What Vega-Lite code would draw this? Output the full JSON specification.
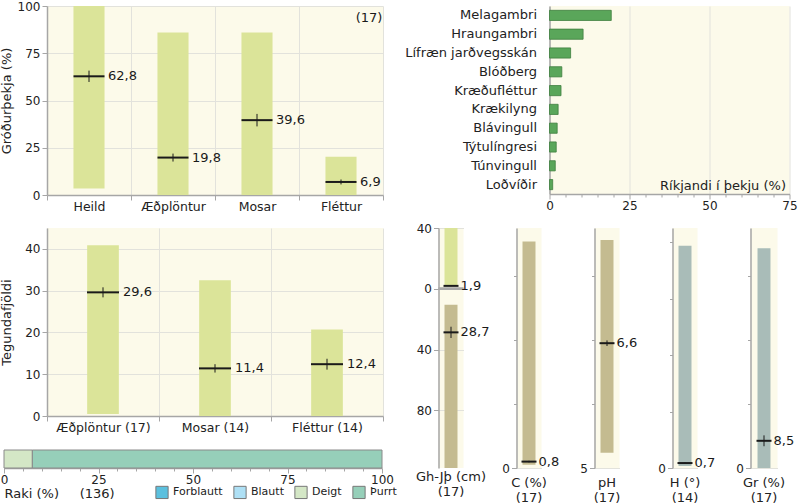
{
  "$schema": "https://vega.github.io/schema/vega-lite/v6.json",
  "padding": 0,
  "background": "white",
  "config": {
    "font": "DejaVu Sans",
    "locale": {"number": {"decimal": ",", "thousands": ".", "grouping": [3], "currency": ["", ""]}},
    "view": {"fill": "#fcfaea", "stroke": null},
    "axis": {"labelFontSize": 12, "labelColor": "#222222", "titleFontSize": 13, "titleFontWeight": "normal", "titleColor": "#222222", "domainColor": "#a6a6a6", "domainWidth": 1.5, "tickColor": "#a6a6a6", "gridColor": "#e2e2dc", "labelFlush": false, "labelOverlap": false},
    "title": {"fontSize": 13, "fontWeight": "normal", "color": "#222222"},
    "legend": {"labelFontSize": 11, "labelColor": "#222222", "padding": 0},
    "text": {"color": "#1a1a1a"}
  },
  "resolve": {"scale": {"color": "independent"}, "legend": {"color": "independent"}},
  "spacing": 9,
  "vconcat": [
    {
      "spacing": 20.5,
      "hconcat": [
        {
          "width": 336, "height": 189,
          "data": {"values": [
            {"grp": "Heild", "lo": 3.5, "hi": 100, "mean": 62.8, "seLo": 59.8, "seHi": 65.8},
            {"grp": "Æðplöntur", "lo": 0, "hi": 86, "mean": 19.8, "seLo": 17.7, "seHi": 21.9},
            {"grp": "Mosar", "lo": 0, "hi": 86, "mean": 39.6, "seLo": 36.3, "seHi": 42.9},
            {"grp": "Fléttur", "lo": 0, "hi": 20.2, "mean": 6.9, "seLo": 5.6, "seHi": 8.2}
          ]},
          "layer": [
            {"mark": {"type": "bar", "color": "#dbe499", "width": {"band": 0.37}},
             "encoding": {
               "x": {"field": "grp", "type": "nominal", "sort": null, "scale": {"paddingInner": 0, "paddingOuter": 0},
                     "axis": {"title": null, "labelAngle": 0, "tickBand": "extent", "grid": true, "tickSize": 5, "labelPadding": 0, "labelFontSize": 12.5}},
               "y": {"field": "lo", "type": "quantitative", "scale": {"domain": [0, 100], "nice": false},
                     "axis": {"title": "Gróðurþekja (%)", "values": [0, 25, 50, 75, 100], "tickSize": 5, "labelPadding": 2, "minExtent": 28, "maxExtent": 28, "titlePadding": 6, "grid": true}},
               "y2": {"field": "hi"}}},
            {"mark": {"type": "rule", "color": "#1a1a1a", "strokeWidth": 1},
             "encoding": {"x": {"field": "grp", "type": "nominal", "sort": null}, "y": {"field": "seLo", "type": "quantitative"}, "y2": {"field": "seHi"}}},
            {"mark": {"type": "tick", "color": "#1a1a1a", "thickness": 2, "size": 31, "opacity": 1},
             "encoding": {"x": {"field": "grp", "type": "nominal", "sort": null}, "y": {"field": "mean", "type": "quantitative"}}},
            {"mark": {"type": "text", "align": "left", "baseline": "middle", "dx": 19, "fontSize": 13},
             "encoding": {"x": {"field": "grp", "type": "nominal", "sort": null}, "y": {"field": "mean", "type": "quantitative"}, "text": {"field": "mean", "type": "quantitative", "format": ".1f"}}},
            {"data": {"values": [{"n": "(17)", "grp": "Fléttur", "pos": 100}]},
             "mark": {"type": "text", "align": "center", "baseline": "middle", "dx": 28, "dy": 12, "fontSize": 13},
             "encoding": {"x": {"field": "grp", "type": "nominal", "sort": null}, "y": {"field": "pos", "type": "quantitative"}, "text": {"field": "n"}}}
          ]
        },
        {
          "width": 240, "height": 188,
          "data": {"values": [
            {"sp": "Melagambri", "v": 19.3},
            {"sp": "Hraungambri", "v": 10.5},
            {"sp": "Lífræn jarðvegsskán", "v": 6.6},
            {"sp": "Blóðberg", "v": 3.85},
            {"sp": "Kræðufléttur", "v": 3.6},
            {"sp": "Krækilyng", "v": 2.7},
            {"sp": "Blávingull", "v": 2.4},
            {"sp": "Týtulíngresi", "v": 2.1},
            {"sp": "Túnvingull", "v": 1.8},
            {"sp": "Loðvíðir", "v": 1.0}
          ]},
          "mark": {"type": "bar", "color": "#5aa65a", "stroke": "#3f7f3f", "strokeWidth": 0.8, "height": {"band": 0.54}},
          "encoding": {
            "y": {"field": "sp", "type": "nominal", "sort": null, "scale": {"paddingInner": 0, "paddingOuter": 0},
                  "axis": {"title": null, "ticks": false, "labelPadding": 13, "grid": false, "labelFontSize": 13}},
            "x": {"field": "v", "type": "quantitative", "scale": {"domain": [0, 75], "nice": false},
                  "axis": {"title": "Ríkjandi í þekju (%)", "titleX": 236, "titleY": -5, "titleAlign": "right", "titleBaseline": "alphabetic", "titleAnchor": "end",
                           "values": [0,5,10,15,20,25,30,35,40,45,50,55,60,65,70,75],
                           "labelExpr": "datum.value % 25 === 0 ? format(datum.value, 'd') : ''",
                           "tickSize": {"condition": {"test": "datum.value % 25 === 0", "value": 5}, "value": 3},
                           "grid": true,
                           "gridOpacity": {"condition": {"test": "datum.value % 25 === 0", "value": 1}, "value": 0},
                           "labelPadding": 1}}
          }
        }
      ]
    },
    {
      "spacing": -9.5,
      "resolve": {"scale": {"color": "independent"}, "legend": {"color": "independent"}},
      "hconcat": [
        {
          "spacing": 15,
          "resolve": {"scale": {"color": "independent"}, "legend": {"color": "independent"}},
          "vconcat": [
            {
              "width": 336, "height": 188,
              "data": {"values": [
                {"grp": "Æðplöntur (17)", "lo": 0.5, "hi": 40.9, "mean": 29.6, "seLo": 28.4, "seHi": 30.8},
                {"grp": "Mosar (14)", "lo": 0, "hi": 32.5, "mean": 11.4, "seLo": 10.4, "seHi": 12.4},
                {"grp": "Fléttur (14)", "lo": 0, "hi": 20.7, "mean": 12.4, "seLo": 11.1, "seHi": 13.7}
              ]},
              "layer": [
                {"mark": {"type": "bar", "color": "#dbe499", "width": {"band": 0.283}},
                 "encoding": {
                   "x": {"field": "grp", "type": "nominal", "sort": null, "scale": {"paddingInner": 0, "paddingOuter": 0},
                         "axis": {"title": null, "labelAngle": 0, "tickBand": "extent", "grid": true, "tickSize": 5, "labelPadding": 0, "labelFontSize": 12.5}},
                   "y": {"field": "lo", "type": "quantitative", "scale": {"domain": [0, 45], "nice": false},
                         "axis": {"title": "Tegundafjöldi", "values": [0, 10, 20, 30, 40], "tickSize": 5, "labelPadding": 2, "minExtent": 28, "maxExtent": 28, "titlePadding": 6, "grid": true}},
                   "y2": {"field": "hi"}}},
                {"mark": {"type": "rule", "color": "#1a1a1a", "strokeWidth": 1},
                 "encoding": {"x": {"field": "grp", "type": "nominal", "sort": null}, "y": {"field": "seLo", "type": "quantitative"}, "y2": {"field": "seHi"}}},
                {"mark": {"type": "tick", "color": "#1a1a1a", "thickness": 2, "size": 32, "opacity": 1},
                 "encoding": {"x": {"field": "grp", "type": "nominal", "sort": null}, "y": {"field": "mean", "type": "quantitative"}}},
                {"mark": {"type": "text", "align": "left", "baseline": "middle", "dx": 20, "fontSize": 13},
                 "encoding": {"x": {"field": "grp", "type": "nominal", "sort": null}, "y": {"field": "mean", "type": "quantitative"}, "text": {"field": "mean", "type": "quantitative", "format": ".1f"}}}
              ]
            },
            {
              "width": 336, "height": 18,
              "view": {"fill": "white"},
              "data": {"values": [
                {"row": "Raki", "cat": "Deigt", "v": 7.5, "o": 1},
                {"row": "Raki", "cat": "Þurrt", "v": 92.5, "o": 2}
              ]},
              "mark": {"type": "bar", "stroke": "#8a8a8a", "strokeWidth": 1},
              "encoding": {
                "y": {"field": "row", "type": "nominal", "axis": null, "scale": {"paddingInner": 0, "paddingOuter": 0}},
                "x": {"field": "v", "type": "quantitative", "stack": "zero", "scale": {"domain": [0, 100], "nice": false, "range": [-43, 335]},
                      "axis": {"title": "Raki (%)\u00a0\u00a0\u00a0\u00a0\u00a0(136)", "titleAnchor": "start", "titleAlign": "left", "titlePadding": 2,
                               "values": [0,5,10,15,20,25,30,35,40,45,50,55,60,65,70,75,80,85,90,95,100],
                               "labelExpr": "datum.value % 25 === 0 ? format(datum.value, 'd') : ''",
                               "tickSize": {"condition": {"test": "datum.value % 25 === 0", "value": 5}, "value": 3},
                               "grid": false, "labelPadding": 1}},
                "color": {"field": "cat", "type": "nominal",
                          "scale": {"domain": ["Forblautt", "Blautt", "Deigt", "Þurrt"], "range": ["#5bc0de", "#aee0f5", "#d4e7c6", "#96cfb9"]},
                          "legend": {"title": null, "orient": "none", "direction": "horizontal", "legendX": 108, "legendY": 35, "symbolType": "square", "symbolSize": 150, "columnPadding": 8, "labelOffset": 4, "symbolStrokeColor": "#777777", "symbolStrokeWidth": 1}},
                "order": {"field": "o"}
              }
            }
          ]
        },
        {
          "spacing": 53,
          "bounds": "flush",
          "hconcat": [
            {
              "width": 25, "height": 240,
              "title": {"text": ["Gh-Jþ (cm)", "(17)"], "orient": "bottom", "offset": 3, "lineHeight": 14.5},
              "data": {"values": [
                {"k": "Gh-Jþ", "part": "Gh", "lo": -40, "hi": -2, "mean": -1.9, "lab": 1.9, "seLo": -2.1, "seHi": -1.7},
                {"k": "Gh-Jþ", "part": "Jþ", "lo": 10.5, "hi": 118, "mean": 28.7, "lab": 28.7, "seLo": 25, "seHi": 32.4}
              ]},
              "layer": [
                {"transform": [{"filter": "datum.part === 'Jþ'"}],
                 "mark": {"type": "bar", "color": "#c4bb90", "width": {"band": 0.52}, "clip": true},
                 "encoding": {
                   "x": {"field": "k", "type": "nominal", "axis": null, "scale": {"paddingInner": 0, "paddingOuter": 0}},
                   "y": {"field": "lo", "type": "quantitative", "scale": {"domain": [-40, 118], "reverse": true, "nice": false, "zero": false},
                         "axis": {"title": null, "values": [-40,-30,-20,-10,0,10,20,30,40,50,60,70,80,90,100,110],
                                  "labelExpr": "datum.value % 20 === 0 ? format(abs(datum.value), 'd') : ''",
                                  "tickSize": {"condition": {"test": "datum.value % 20 === 0", "value": 5}, "value": 3},
                                  "grid": true,
                                  "gridOpacity": {"condition": {"test": "datum.value % 20 === 0", "value": 1}, "value": 0},
                                  "labelPadding": 2}},
                   "y2": {"field": "hi"}}},
                {"transform": [{"filter": "datum.part === 'Gh'"}],
                 "mark": {"type": "bar", "color": "#dbe499", "width": {"band": 0.52}, "clip": true},
                 "encoding": {
                   "x": {"field": "k", "type": "nominal"},
                   "y": {"field": "lo", "type": "quantitative"},
                   "y2": {"field": "hi"}}},
                {"mark": {"type": "rule", "color": "#a8a8a8", "strokeWidth": 2.5},
                 "encoding": {"y": {"datum": 0, "type": "quantitative"}}},
                {"mark": {"type": "rule", "color": "#1a1a1a", "strokeWidth": 1},
                 "encoding": {"x": {"field": "k", "type": "nominal"}, "y": {"field": "seLo", "type": "quantitative"}, "y2": {"field": "seHi"}}},
                {"mark": {"type": "tick", "color": "#1a1a1a", "thickness": 2, "size": 15, "opacity": 1},
                 "encoding": {"x": {"field": "k", "type": "nominal"}, "y": {"field": "mean", "type": "quantitative"}}},
                {"mark": {"type": "text", "align": "left", "baseline": "middle", "dx": 9.5, "fontSize": 13},
                 "encoding": {"x": {"field": "k", "type": "nominal"}, "y": {"field": "mean", "type": "quantitative"}, "text": {"field": "lab", "type": "quantitative", "format": ".1f"}}}
              ]
            },
            {
              "width": 25, "height": 240,
              "title": {"text": ["C (%)", "(17)"], "orient": "bottom", "offset": 3, "lineHeight": 14.5},
              "data": {"values": [
                {"k": "C", "lo": 0.4, "hi": 28.3, "mean": 0.8, "seLo": 0.7, "seHi": 0.9}
              ]},
              "layer": [
                {"mark": {"type": "bar", "color": "#c4bb90", "width": {"band": 0.52}},
                 "encoding": {
                   "x": {"field": "k", "type": "nominal", "axis": null, "scale": {"paddingInner": 0, "paddingOuter": 0}},
                   "y": {"field": "lo", "type": "quantitative", "scale": {"domain": [0, 30], "nice": false},
                         "axis": {"title": null, "values": [0,2,4,6,8,10,12,14,16,18,20,22,24,26,28,30],
                                  "labelExpr": "datum.value % 10 === 0 ? format(datum.value, 'd') : ''",
                                  "tickSize": {"condition": {"test": "datum.value % 10 === 0", "value": 5}, "value": 3},
                                  "grid": true,
                                  "gridOpacity": {"condition": {"test": "datum.value % 10 === 0", "value": 1}, "value": 0},
                                  "labelPadding": 2}},
                   "y2": {"field": "hi"}}},
                {"mark": {"type": "rule", "color": "#1a1a1a", "strokeWidth": 1},
                 "encoding": {"x": {"field": "k", "type": "nominal"}, "y": {"field": "seLo", "type": "quantitative"}, "y2": {"field": "seHi"}}},
                {"mark": {"type": "tick", "color": "#1a1a1a", "thickness": 2, "size": 15, "opacity": 1},
                 "encoding": {"x": {"field": "k", "type": "nominal"}, "y": {"field": "mean", "type": "quantitative"}}},
                {"mark": {"type": "text", "align": "left", "baseline": "middle", "dx": 9.5, "fontSize": 13},
                 "encoding": {"x": {"field": "k", "type": "nominal"}, "y": {"field": "mean", "type": "quantitative"}, "text": {"field": "mean", "type": "quantitative", "format": ".1f"}}}
              ]
            },
            {
              "width": 25, "height": 240,
              "title": {"text": ["pH", "(17)"], "orient": "bottom", "offset": 3, "lineHeight": 14.5},
              "data": {"values": [
                {"k": "pH", "lo": 5.19, "hi": 7.85, "mean": 6.56, "seLo": 6.525, "seHi": 6.595}
              ]},
              "layer": [
                {"mark": {"type": "bar", "color": "#c4bb90", "width": {"band": 0.52}},
                 "encoding": {
                   "x": {"field": "k", "type": "nominal", "axis": null, "scale": {"paddingInner": 0, "paddingOuter": 0}},
                   "y": {"field": "lo", "type": "quantitative", "scale": {"domain": [5, 8], "nice": false, "zero": false},
                         "axis": {"title": null, "values": [5,5.2,5.4,5.6,5.8,6,6.2,6.4,6.6,6.8,7,7.2,7.4,7.6,7.8,8],
                                  "labelExpr": "datum.value % 1 === 0 ? format(datum.value, 'd') : ''",
                                  "tickSize": {"condition": {"test": "datum.value % 1 === 0", "value": 5}, "value": 3},
                                  "grid": true,
                                  "gridOpacity": {"condition": {"test": "datum.value % 1 === 0", "value": 1}, "value": 0},
                                  "labelPadding": 2}},
                   "y2": {"field": "hi"}}},
                {"mark": {"type": "rule", "color": "#1a1a1a", "strokeWidth": 1},
                 "encoding": {"x": {"field": "k", "type": "nominal"}, "y": {"field": "seLo", "type": "quantitative"}, "y2": {"field": "seHi"}}},
                {"mark": {"type": "tick", "color": "#1a1a1a", "thickness": 2, "size": 15, "opacity": 1},
                 "encoding": {"x": {"field": "k", "type": "nominal"}, "y": {"field": "mean", "type": "quantitative"}}},
                {"mark": {"type": "text", "align": "left", "baseline": "middle", "dx": 9.5, "fontSize": 13},
                 "encoding": {"x": {"field": "k", "type": "nominal"}, "y": {"field": "mean", "type": "quantitative"}, "text": {"field": "mean", "type": "quantitative", "format": ".1f"}}}
              ]
            },
            {
              "width": 25, "height": 240,
              "title": {"text": ["H (°)", "(14)"], "orient": "bottom", "offset": 3, "lineHeight": 14.5},
              "data": {"values": [
                {"k": "H", "lo": 0.3, "hi": 31.5, "mean": 0.7, "seLo": 0.6, "seHi": 0.8}
              ]},
              "layer": [
                {"mark": {"type": "bar", "color": "#a9bcb8", "width": {"band": 0.52}},
                 "encoding": {
                   "x": {"field": "k", "type": "nominal", "axis": null, "scale": {"paddingInner": 0, "paddingOuter": 0}},
                   "y": {"field": "lo", "type": "quantitative", "scale": {"domain": [0, 34], "nice": false},
                         "axis": {"title": null, "values": [0,2,4,6,8,10,12,14,16,18,20,22,24,26,28,30,32,34],
                                  "labelExpr": "datum.value % 10 === 0 ? format(datum.value, 'd') : ''",
                                  "tickSize": {"condition": {"test": "datum.value % 10 === 0", "value": 5}, "value": 3},
                                  "grid": true,
                                  "gridOpacity": {"condition": {"test": "datum.value % 10 === 0", "value": 1}, "value": 0},
                                  "labelPadding": 2}},
                   "y2": {"field": "hi"}}},
                {"mark": {"type": "rule", "color": "#1a1a1a", "strokeWidth": 1},
                 "encoding": {"x": {"field": "k", "type": "nominal"}, "y": {"field": "seLo", "type": "quantitative"}, "y2": {"field": "seHi"}}},
                {"mark": {"type": "tick", "color": "#1a1a1a", "thickness": 2, "size": 15, "opacity": 1},
                 "encoding": {"x": {"field": "k", "type": "nominal"}, "y": {"field": "mean", "type": "quantitative"}}},
                {"mark": {"type": "text", "align": "left", "baseline": "middle", "dx": 9.5, "fontSize": 13},
                 "encoding": {"x": {"field": "k", "type": "nominal"}, "y": {"field": "mean", "type": "quantitative"}, "text": {"field": "mean", "type": "quantitative", "format": ".1f"}}}
              ]
            },
            {
              "width": 27, "height": 240,
              "title": {"text": ["Gr (%)", "(17)"], "orient": "bottom", "offset": 3, "lineHeight": 14.5},
              "data": {"values": [
                {"k": "Gr", "lo": 0, "hi": 68.7, "mean": 8.5, "seLo": 6.8, "seHi": 10.2}
              ]},
              "layer": [
                {"mark": {"type": "bar", "color": "#a9bcb8", "width": {"band": 0.48}},
                 "encoding": {
                   "x": {"field": "k", "type": "nominal", "axis": null, "scale": {"paddingInner": 0, "paddingOuter": 0}},
                   "y": {"field": "lo", "type": "quantitative", "scale": {"domain": [0, 75], "nice": false},
                         "axis": {"title": null, "values": [0,5,10,15,20,25,30,35,40,45,50,55,60,65,70,75],
                                  "labelExpr": "datum.value % 25 === 0 ? format(datum.value, 'd') : ''",
                                  "tickSize": {"condition": {"test": "datum.value % 25 === 0", "value": 5}, "value": 3},
                                  "grid": true,
                                  "gridOpacity": {"condition": {"test": "datum.value % 25 === 0", "value": 1}, "value": 0},
                                  "labelPadding": 2}},
                   "y2": {"field": "hi"}}},
                {"mark": {"type": "rule", "color": "#1a1a1a", "strokeWidth": 1},
                 "encoding": {"x": {"field": "k", "type": "nominal"}, "y": {"field": "seLo", "type": "quantitative"}, "y2": {"field": "seHi"}}},
                {"mark": {"type": "tick", "color": "#1a1a1a", "thickness": 2, "size": 15, "opacity": 1},
                 "encoding": {"x": {"field": "k", "type": "nominal"}, "y": {"field": "mean", "type": "quantitative"}}},
                {"mark": {"type": "text", "align": "left", "baseline": "middle", "dx": 9.5, "fontSize": 13},
                 "encoding": {"x": {"field": "k", "type": "nominal"}, "y": {"field": "mean", "type": "quantitative"}, "text": {"field": "mean", "type": "quantitative", "format": ".1f"}}}
              ]
            }
          ]
        }
      ]
    }
  ]
}
